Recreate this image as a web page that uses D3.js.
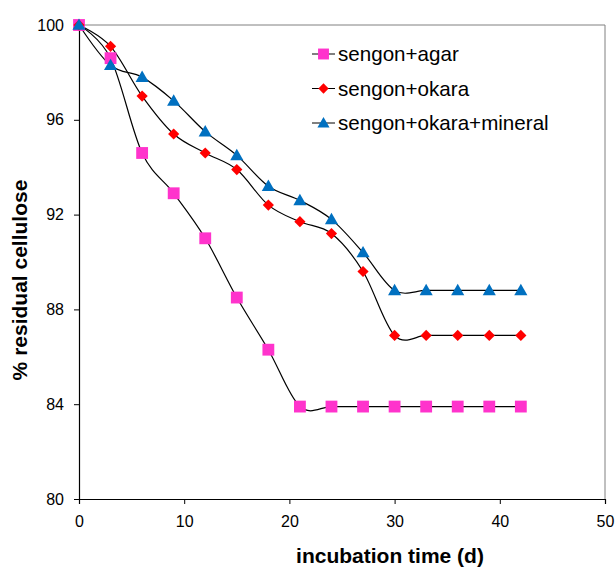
<!DOCTYPE html>
<html>
<head>
<meta charset="utf-8">
<script src="https://cdn.jsdelivr.net/npm/d3@7"></script>
<style>
  html, body { margin: 0; padding: 0; background: #fff; }
  svg { display: block; font-family: "Liberation Sans", Arial, sans-serif; }
</style>
</head>
<body>
<svg id="chart" width="616" height="568"></svg>
<script>
// Incubation days
const days = [0, 3, 6, 9, 12, 15, 18, 21, 24, 27, 30, 33, 36, 39, 42];

// Residual cellulose (%) per treatment
const agar    = [100, 98.6, 94.6, 92.9, 91.0, 88.5, 86.3, 83.9, 83.9, 83.9, 83.9, 83.9, 83.9, 83.9, 83.9];
const okara   = [100, 99.1, 97.0, 95.4, 94.6, 93.9, 92.4, 91.7, 91.2, 89.6, 86.9, 86.9, 86.9, 86.9, 86.9];
const mineral = [100, 98.3, 97.8, 96.8, 95.5, 94.5, 93.2, 92.6, 91.8, 90.4, 88.8, 88.8, 88.8, 88.8, 88.8];

const seriesNames = ["sengon+agar", "sengon+okara", "sengon+okara+mineral"];
const xTicks = [0, 10, 20, 30, 40, 50];
const yTicks = [80, 84, 88, 92, 96, 100];

const series = [
  { name: seriesNames[0], values: agar,    symbol: d3.symbolSquare,   color: "#ff33cc", size: 140 },
  { name: seriesNames[1], values: okara,   symbol: d3.symbolDiamond2, color: "#ff0000", size: 80 },
  { name: seriesNames[2], values: mineral, symbol: d3.symbolTriangle, color: "#0070c0", size: 75 }
];

const svg = d3.select("#chart");
const plotL = 79, plotR = 605, plotT = 25, plotB = 499;

const x = d3.scaleLinear().domain([0, 50]).range([plotL, plotR]);
const y = d3.scaleLinear().domain([80, 100]).range([plotB, plotT]);

// plot frame (top and right edges)
svg.append("path")
  .attr("d", `M${plotL},${plotT}H${plotR}V${plotB}`)
  .attr("fill", "none")
  .attr("stroke", "#808080")
  .attr("stroke-width", 1);

// axes
const xAxis = svg.append("g")
  .attr("transform", `translate(0,${plotB})`)
  .call(d3.axisBottom(x).tickValues(xTicks).tickSize(5).tickPadding(12));
const yAxis = svg.append("g")
  .attr("transform", `translate(${plotL},0)`)
  .call(d3.axisLeft(y).tickValues(yTicks).tickSize(5).tickPadding(10));

[xAxis, yAxis].forEach(g => {
  g.select(".domain").attr("stroke", "#000").attr("stroke-width", 1.2);
  g.selectAll(".tick line").attr("stroke", "#000");
  g.selectAll(".tick text").attr("fill", "#000").style("font-size", "16px");
});

// axis titles
svg.append("text")
  .attr("x", 390).attr("y", 563)
  .attr("text-anchor", "middle")
  .style("font-size", "21px").style("font-weight", "bold")
  .text("incubation time (d)");

svg.append("text")
  .attr("transform", `translate(27,280) rotate(-90)`)
  .attr("text-anchor", "middle")
  .style("font-size", "21px").style("font-weight", "bold")
  .text("% residual cellulose");

// smoothed lines and markers
const line = d3.line()
  .x((d, i) => x(days[i]))
  .y(d => y(d))
  .curve(d3.curveCardinal.tension(0));

series.forEach(s => {
  svg.append("path")
    .datum(s.values)
    .attr("d", line)
    .attr("fill", "none")
    .attr("stroke", "#000")
    .attr("stroke-width", 1.2);
});

series.forEach(s => {
  const sym = d3.symbol().type(s.symbol).size(s.size);
  svg.append("g").selectAll("path")
    .data(s.values)
    .join("path")
    .attr("d", sym)
    .attr("transform", (d, i) => `translate(${x(days[i])},${y(d) + (s.symbol === d3.symbolTriangle ? 1 : 0)})`)
    .attr("fill", s.color);
});

// legend
const legend = svg.append("g");
series.forEach((s, i) => {
  const cy = 54 + i * 34.5;
  legend.append("line")
    .attr("x1", 312).attr("x2", 335).attr("y1", cy).attr("y2", cy)
    .attr("stroke", "#000").attr("stroke-width", 1);
  legend.append("path")
    .attr("d", d3.symbol().type(s.symbol).size(s.size * 0.85))
    .attr("transform", `translate(323.5,${cy + (s.symbol === d3.symbolTriangle ? 1 : 0)})`)
    .attr("fill", s.color);
  legend.append("text")
    .attr("x", 338).attr("y", cy + 7)
    .style("font-size", "20.6px")
    .attr("fill", "#000")
    .text(s.name);
});
</script>
</body>
</html>
